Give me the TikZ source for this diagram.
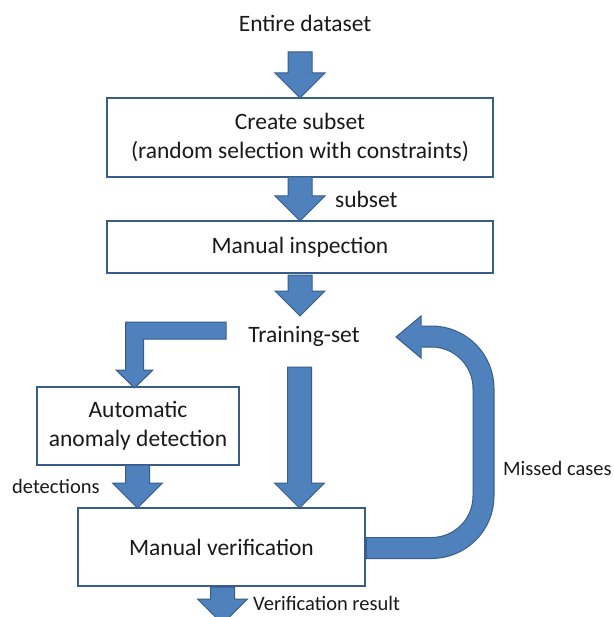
\documentclass[tikz,border=0pt]{standalone}
\usepackage{fontspec}
\setmainfont{Carlito}
\definecolor{afill}{HTML}{4F81BD}
\definecolor{aline}{HTML}{385D8A}
\definecolor{txt}{HTML}{1A1A1A}
\newcommand\dnarrow[3]{%
  \filldraw[barrow] ({#1-12},#2) -- ({#1+12},#2) -- ({#1+12},{#3-25}) -- ({#1+25},{#3-25}) -- (#1,#3) -- ({#1-25},{#3-25}) -- ({#1-12},{#3-25}) -- cycle;}
\begin{document}
\begin{tikzpicture}[x=1pt,y=-1pt,
  box/.style={draw=aline,line width=2pt,fill=white,inner sep=0pt,align=center,text=txt,font=\fontsize{23.5}{29}\selectfont},
  lbl/.style={inner sep=0pt,text=txt,font=\fontsize{23.5}{29}\selectfont},
  slbl/.style={inner sep=0pt,text=txt,anchor=west,font=\fontsize{20.5}{25}\selectfont},
  barrow/.style={fill=afill,draw=aline,line width=1pt,line join=miter}]
\useasboundingbox (0,0) rectangle (613,617);
\clip (0,0) rectangle (613,617);
\fill[white] (0,0) rectangle (613,617);

% texts
\node[lbl] (entire) at (305,23) {Entire dataset};
\node[lbl] (train) at (304,336) {Training-set};
\node[lbl,anchor=west] (subsetlbl) at (335,199) {subset};
\node[slbl] (missed) at (503,468) {Missed cases};
\node[slbl] (detlbl) at (12,486) {detections};
\node[slbl] (verres) at (253,603) {Verification result};

% boxes
\node[box,minimum width=386pt,minimum height=79pt] (create) at (300,137.5) {Create subset\\(random selection with constraints)};
\node[box,minimum width=386pt,minimum height=52pt] (inspect) at (300,247) {Manual inspection};
\node[box,minimum width=202pt,minimum height=78pt] (auto) at (138,426) {Automatic\\anomaly detection};
\node[box,minimum width=287pt,minimum height=78pt] (verify) at (221.5,547) {Manual verification};

% straight block arrows
\dnarrow{300}{52}{98}
\dnarrow{300}{177}{221}
\dnarrow{300}{275}{316}
\dnarrow{299.5}{367}{508}
\dnarrow{137.5}{465}{508}
\dnarrow{222.5}{587}{624}

% bent arrow from Training-set to automatic detection
\filldraw[barrow] (226,322) -- (125.5,322) -- (125.5,370) -- (116,370) -- (134.5,388) -- (153,370) -- (143.5,370) -- (143.5,339) -- (226,339) -- cycle;

% U-turn arrow (missed cases)
\draw[aline,line width=22pt,rounded corners=52pt] (366,548) -- (483.5,548) -- (483.5,336.5) -- (420.5,336.5);
\draw[afill,line width=19.8pt,rounded corners=52pt] (367,548) -- (483.5,548) -- (483.5,336.5) -- (420.5,336.5);
\fill[afill] (421,326) -- (421,316) -- (396,337) -- (421,358) -- (421,347) -- cycle;
\draw[aline,line width=1pt,line join=miter] (421,325.5) -- (421,316) -- (396,337) -- (421,358) -- (421,347.5);
\end{tikzpicture}
\end{document}
